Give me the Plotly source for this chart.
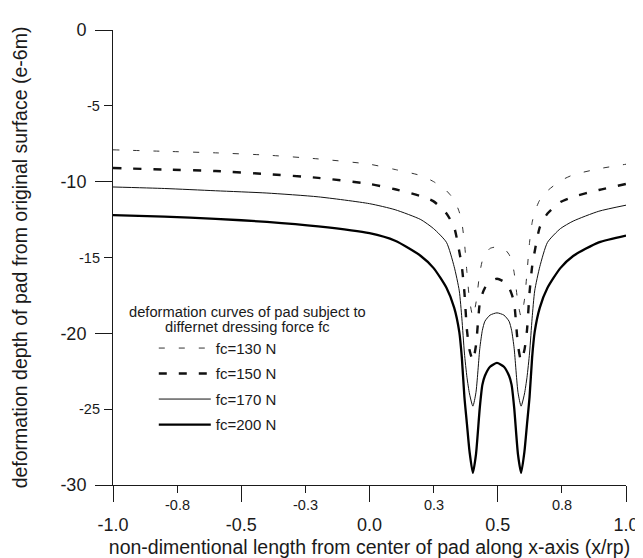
import plotly.graph_objects as go

# ---- data ----
x_vals = [-1.0, -0.8, -0.6, -0.4, -0.2, 0.0, 0.1, 0.2, 0.25, 0.30, 0.33, 0.35, 0.36, 0.37,
          0.38, 0.39, 0.403, 0.415, 0.43, 0.44, 0.45, 0.47, 0.497,
          0.524, 0.544, 0.554, 0.564, 0.579, 0.591, 0.604, 0.614, 0.624, 0.634, 0.644,
          0.664, 0.694, 0.744, 0.794, 0.894, 1.0]

fc130 = [-7.9, -8.0, -8.1, -8.25, -8.5, -8.85, -9.2, -9.6, -10.0, -10.6, -11.2, -12.0, -12.7, -14.0,
         -16.0, -17.8, -18.9, -18.0, -16.0, -15.2, -14.8, -14.4, -14.3,
         -14.4, -14.8, -15.2, -16.0, -18.0, -18.9, -17.8, -16.0, -14.0, -12.7, -12.0,
         -11.2, -10.6, -9.95, -9.55, -9.15, -8.85]

fc150 = [-9.1, -9.2, -9.3, -9.5, -9.75, -10.15, -10.5, -10.95, -11.3, -12.1, -13.0, -14.6, -15.6, -17.3,
         -19.8, -21.1, -21.8, -20.8, -18.0, -17.4, -17.0, -16.6, -16.4,
         -16.6, -17.0, -17.4, -18.0, -20.8, -21.8, -21.1, -19.8, -17.3, -15.6, -14.6,
         -13.0, -12.1, -11.35, -11.0, -10.55, -10.15]

fc170 = [-10.35, -10.45, -10.6, -10.75, -11.0, -11.45, -11.85, -12.5, -13.1, -14.0, -15.6, -17.2, -19.0, -21.3,
         -22.9, -24.0, -24.8, -23.9, -21.0, -19.8, -19.2, -18.8, -18.65,
         -18.8, -19.2, -19.8, -21.0, -23.9, -24.8, -24.0, -22.9, -21.3, -19.0, -17.2,
         -15.6, -14.0, -13.1, -12.6, -11.95, -11.55]

fc200 = [-12.2, -12.3, -12.45, -12.65, -12.95, -13.4, -13.9, -14.9, -15.7, -17.0, -18.3, -19.9, -21.6, -24.2,
         -26.0, -27.8, -29.2, -28.0, -24.9, -23.4, -22.8, -22.2, -21.95,
         -22.2, -22.8, -23.4, -24.9, -28.0, -29.2, -27.8, -26.0, -24.2, -21.6, -19.9,
         -18.3, -17.0, -15.7, -14.9, -14.0, -13.55]

series_names = ["fc=130 N", "fc=150 N", "fc=170 N", "fc=200 N"]

x_major_vals = [-1.0, -0.5, 0.0, 0.5, 1.0]
x_major_text = ["-1.0", "-0.5", "0.0", "0.5", "1.0"]
x_minor_vals = [-0.75, -0.25, 0.25, 0.75]
x_minor_text = ["-0.8", "-0.3", "0.3", "0.8"]

y_major_vals = [0, -10, -20, -30]
y_major_text = ["0", "-10", "-20", "-30"]
y_minor_vals = [-5, -15, -25]
y_minor_text = ["-5", "-15", "-25"]

legend_title_lines = ["deformation curves of pad subject to", "differnet dressing force fc"]
x_title = "non-dimentional length from center of pad along x-axis (x/rp)"
y_title = "deformation depth of pad from original surface (e-6m)"

# ---- styles ----
FONT = "Liberation Sans, Arial, sans-serif"
INK = "#1a1a1a"
styles = [
    dict(width=1.0, dash="6px,14px", color="#333333"),
    dict(width=2.4, dash="8px,12px", color="#111111"),
    dict(width=1.0, dash="solid", color="#111111"),
    dict(width=2.3, dash="solid", color="#000000"),
]

fig = go.Figure()
for name, ys, st in zip(series_names, [fc130, fc150, fc170, fc200], styles):
    fig.add_trace(go.Scatter(
        x=x_vals, y=ys, mode="lines", name=name, legendgroup=name,
        line=dict(width=st["width"], dash=st["dash"], color=st["color"],
                  shape="spline", smoothing=0.6),
    ))

fig.update_layout(
    width=643, height=558,
    margin=dict(l=103, r=12, t=16, b=72),
    paper_bgcolor="white", plot_bgcolor="white",
    font=dict(family=FONT, color=INK),
    showlegend=True,
    legend=dict(
        x=0.0795, y=0.3367, xanchor="left", yanchor="top",
        bgcolor="rgba(0,0,0,0)", borderwidth=0,
        font=dict(size=15, family=FONT, color=INK),
        traceorder="grouped", tracegroupgap=3, itemwidth=52,
    ),
)

# legend heading: two centred lines above the legend entries
for i, line_text in enumerate(legend_title_lines):
    fig.add_annotation(x=0.2623, xref="paper", y=0.3798 - i * 0.0319, yref="paper",
                       text=line_text, showarrow=False,
                       xanchor="center", yanchor="middle", align="center",
                       font=dict(size=14.7, family=FONT, color=INK))

fig.update_xaxes(
    range=[-1, 1], showgrid=False, zeroline=False,
    showline=True, linecolor=INK, linewidth=1,
    ticks="outside", ticklen=16, tickcolor=INK, tickwidth=1,
    tickvals=x_major_vals, ticktext=x_major_text, ticklabelstandoff=7,
    ticklabeloverflow="allow",
    tickfont=dict(size=18, family=FONT, color=INK),
    minor=dict(tickvals=x_minor_vals, ticks="outside", ticklen=7,
               tickcolor=INK, tickwidth=1, showgrid=False),
    title=dict(text=x_title, font=dict(size=19.5, family=FONT, color=INK), standoff=6),
)
fig.update_yaxes(
    range=[-30, 0], showgrid=False, zeroline=False,
    showline=True, linecolor=INK, linewidth=1,
    ticks="outside", ticklen=17, tickcolor=INK, tickwidth=1,
    tickvals=y_major_vals, ticktext=y_major_text, ticklabelstandoff=5,
    ticklabeloverflow="allow",
    tickfont=dict(size=18, family=FONT, color=INK),
    minor=dict(tickvals=y_minor_vals, ticks="outside", ticklen=8,
               tickcolor=INK, tickwidth=1, showgrid=False),
    title=dict(text=y_title, font=dict(size=19.5, family=FONT, color=INK), standoff=27),
)

for v, t in zip(x_minor_vals, x_minor_text):
    fig.add_annotation(x=v, xref="x", y=0, yref="paper", text=t, showarrow=False,
                       xanchor="center", yanchor="top", yshift=-10,
                       font=dict(size=14.5, family=FONT, color=INK))
for v, t in zip(y_minor_vals, y_minor_text):
    fig.add_annotation(x=0, xref="paper", y=v, yref="y", text=t, showarrow=False,
                       xanchor="right", yanchor="middle", xshift=-11,
                       font=dict(size=14.5, family=FONT, color=INK))

fig.write_html("out.html")
